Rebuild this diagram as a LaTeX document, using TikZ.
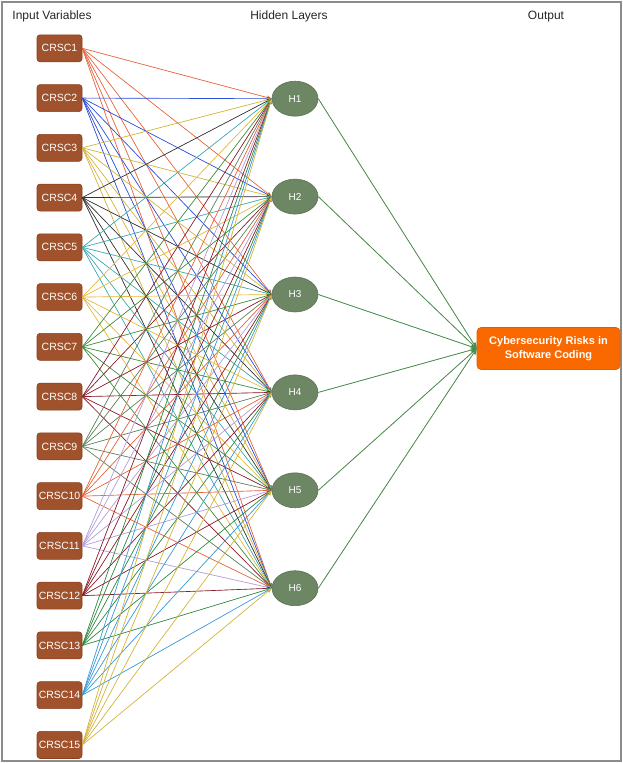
\documentclass[tikz,border=0pt]{standalone}
\usepackage{fontspec}
\setmainfont{Liberation Sans}
\usetikzlibrary{shapes.geometric,arrows.meta}
\definecolor{inbox}{HTML}{A0522D}
\definecolor{inboxline}{HTML}{8B3E1E}
\definecolor{hid}{HTML}{6D8764}
\definecolor{hidline}{HTML}{5A7355}
\definecolor{outbox}{HTML}{FA6800}
\definecolor{outline}{HTML}{E06000}
\definecolor{edgeout}{HTML}{4C8C4C}
\definecolor{cA}{HTML}{E8643C}
\definecolor{cB}{HTML}{2E4FD8}
\definecolor{cC}{HTML}{D4B53A}
\definecolor{cD}{HTML}{333333}
\definecolor{cE}{HTML}{3BAAB5}
\definecolor{cF}{HTML}{E5B93A}
\definecolor{cG}{HTML}{3E8E3E}
\definecolor{cH}{HTML}{8B1C2B}
\definecolor{cI}{HTML}{5E815E}
\definecolor{cJ}{HTML}{E8643C}
\definecolor{cK}{HTML}{B39DDB}
\definecolor{cL}{HTML}{8B1C2B}
\definecolor{cM}{HTML}{2F8A3F}
\definecolor{cN}{HTML}{3A9AD9}
\definecolor{cO}{HTML}{D4B53A}
\begin{document}
\begin{tikzpicture}[x=1pt,y=-1pt,
  inbox/.style={draw=inboxline,fill=inbox,rounded corners=3pt,minimum width=45pt,minimum height=27pt,inner sep=0pt,text=white,font=\fontsize{10.5}{12}\selectfont,line width=0.6pt},
  hidnode/.style={ellipse,draw=hidline,fill=hid,minimum width=46pt,minimum height=35pt,inner sep=0pt,text=white,font=\fontsize{10}{12}\selectfont,line width=0.6pt},
  outnode/.style={draw=outline,fill=outbox,rounded corners=4pt,minimum width=143pt,minimum height=42pt,inner sep=0pt,text=white,align=center,font=\bfseries\fontsize{11}{14}\selectfont,line width=0.6pt},
  title/.style={font=\fontsize{12}{14}\selectfont,text=black!85,anchor=base},
  conn/.style={line width=0.65pt,-{Stealth[length=5pt,width=4pt]}},
  oconn/.style={draw=edgeout,line width=0.8pt,-{Stealth[length=6pt,width=6pt]}}]
\useasboundingbox (0,0) rectangle (623,763);
\draw[draw=black!45,line width=1.8pt] (2,2) rectangle (621,761);
\node[title] (t1) at (52,19) {Input Variables};
\node[title] (t2) at (289,19) {Hidden Layers};
\node[title] (t3) at (546,19) {Output};
\foreach \i in {1,...,15}{
  \node[inbox] (in\i) at (59.5,{48.3+(\i-1)*49.76}) {CRSC\i};
}
\foreach \j in {1,...,6}{
  \node[hidnode] (h\j) at (295,{98.7+(\j-1)*97.9}) {H\j};
}
\node[outnode] (out) at (548.5,348.5) {Cybersecurity Risks in\\Software Coding};
\foreach \i/\c in {1/cA,2/cB,3/cC,4/cD,5/cE,6/cF,7/cG,8/cH,9/cI,10/cJ,11/cK,12/cL,13/cM,14/cN,15/cO}{
  \foreach \j in {1,...,6}{
    \draw[conn,draw=\c,fill=\c] (in\i.east) -- (h\j.west);
  }
}
\foreach \j in {1,...,6}{
  \draw[oconn,fill=edgeout!70!black] (h\j.east) -- (out.west);
}
\end{tikzpicture}
\end{document}
